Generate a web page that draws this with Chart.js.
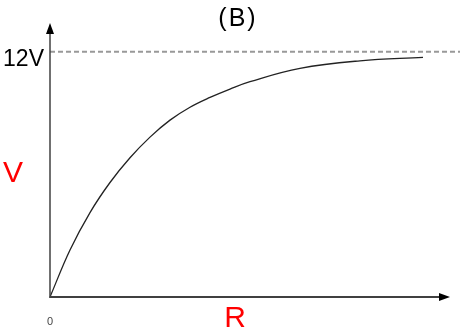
<!DOCTYPE html>
<html>
<head>
<meta charset="utf-8">
<script src="https://cdn.jsdelivr.net/npm/chart.js@4"></script>
<style>
  html, body { margin: 0; padding: 0; background: #fff; }
  #wrap { width: 460px; height: 331px; }
</style>
</head>
<body>
<div id="wrap"><canvas id="chart"></canvas></div>
<script>
// Charging curve, V against R
const rValues = [0, 5, 10, 15, 20, 25, 30, 35, 40, 45, 50, 62.5, 77.5, 93.25];
const vValues = [0, 2.30, 4.13, 5.60, 6.81, 7.82, 8.65, 9.28, 9.76, 10.17, 10.53, 11.18, 11.55, 11.72];
const limitV = 12;
const limitLabel = '12V';
const title = '(B)';
const xLabel = 'R';
const yLabel = 'V';
const originLabel = '0';

const FONT = '"Liberation Sans", Arial, sans-serif';

// axes with arrowheads + the text labels
const sketchPlugin = {
    id: 'sketch',
    afterDatasetsDraw(chart) {
        const ctx = chart.ctx;
        const x = chart.scales.x, y = chart.scales.y;
        const x0 = x.getPixelForValue(0);
        const y0 = y.getPixelForValue(0);
        const xEnd = x.right, yTop = y.top;

        ctx.save();
        ctx.strokeStyle = '#404040';
        ctx.fillStyle = '#000';
        // y axis
        ctx.lineWidth = 1.5;
        ctx.beginPath();
        ctx.moveTo(x0, y0 + 1);
        ctx.lineTo(x0, yTop + 8);
        ctx.stroke();
        ctx.beginPath();
        ctx.moveTo(x0, yTop);
        ctx.lineTo(x0 - 4, yTop + 11);
        ctx.lineTo(x0 + 4, yTop + 11);
        ctx.closePath();
        ctx.fill();
        // x axis
        ctx.lineWidth = 2;
        ctx.beginPath();
        ctx.moveTo(x0 - 0.5, y0);
        ctx.lineTo(xEnd - 8, y0);
        ctx.stroke();
        ctx.beginPath();
        ctx.moveTo(xEnd, y0);
        ctx.lineTo(xEnd - 11, y0 - 4);
        ctx.lineTo(xEnd - 11, y0 + 4);
        ctx.closePath();
        ctx.fill();

        // texts
        ctx.textBaseline = 'alphabetic';
        ctx.fillStyle = '#000';
        ctx.font = '25px ' + FONT;
        ctx.textAlign = 'center';
        ctx.letterSpacing = '2px';
        ctx.fillText(title, 238, 26);
        ctx.letterSpacing = '0px';

        ctx.font = '23px ' + FONT;
        ctx.textAlign = 'right';
        ctx.fillText(limitLabel, x0 - 6, y.getPixelForValue(limitV) + 14);

        ctx.fillStyle = '#ff0000';
        ctx.font = '30px ' + FONT;
        ctx.textAlign = 'center';
        ctx.fillText(yLabel, 13, 182);
        ctx.fillText(xLabel, 235, 327);

        ctx.fillStyle = '#444';
        ctx.font = '11px ' + FONT;
        ctx.fillText(originLabel, x0, y0 + 28);
        ctx.restore();
    }
};

new Chart(document.getElementById('chart'), {
    type: 'line',
    data: {
        datasets: [
            {
                label: 'V',
                data: rValues.map((r, i) => ({ x: r, y: vValues[i] })),
                borderColor: '#222',
                borderWidth: 1.3,
                pointRadius: 0,
                fill: false,
                tension: 0.4
            },
            {
                label: 'limit',
                data: [{ x: 0, y: limitV }, { x: 102.5, y: limitV }],
                borderColor: '#999',
                borderWidth: 2,
                borderDash: [5, 3],
                pointRadius: 0,
                fill: false,
                clip: false
            }
        ]
    },
    options: {
        responsive: true,
        maintainAspectRatio: false,
        animation: false,
        layout: {
            padding: { left: 50, right: 10, top: 23, bottom: 34 }
        },
        plugins: {
            legend: { display: false },
            tooltip: { enabled: false },
            title: { display: false }
        },
        scales: {
            x: { type: 'linear', min: 0, max: 100, display: false },
            y: { type: 'linear', min: 0, max: 13.4, display: false }
        }
    },
    plugins: [sketchPlugin]
});
</script>
</body>
</html>
